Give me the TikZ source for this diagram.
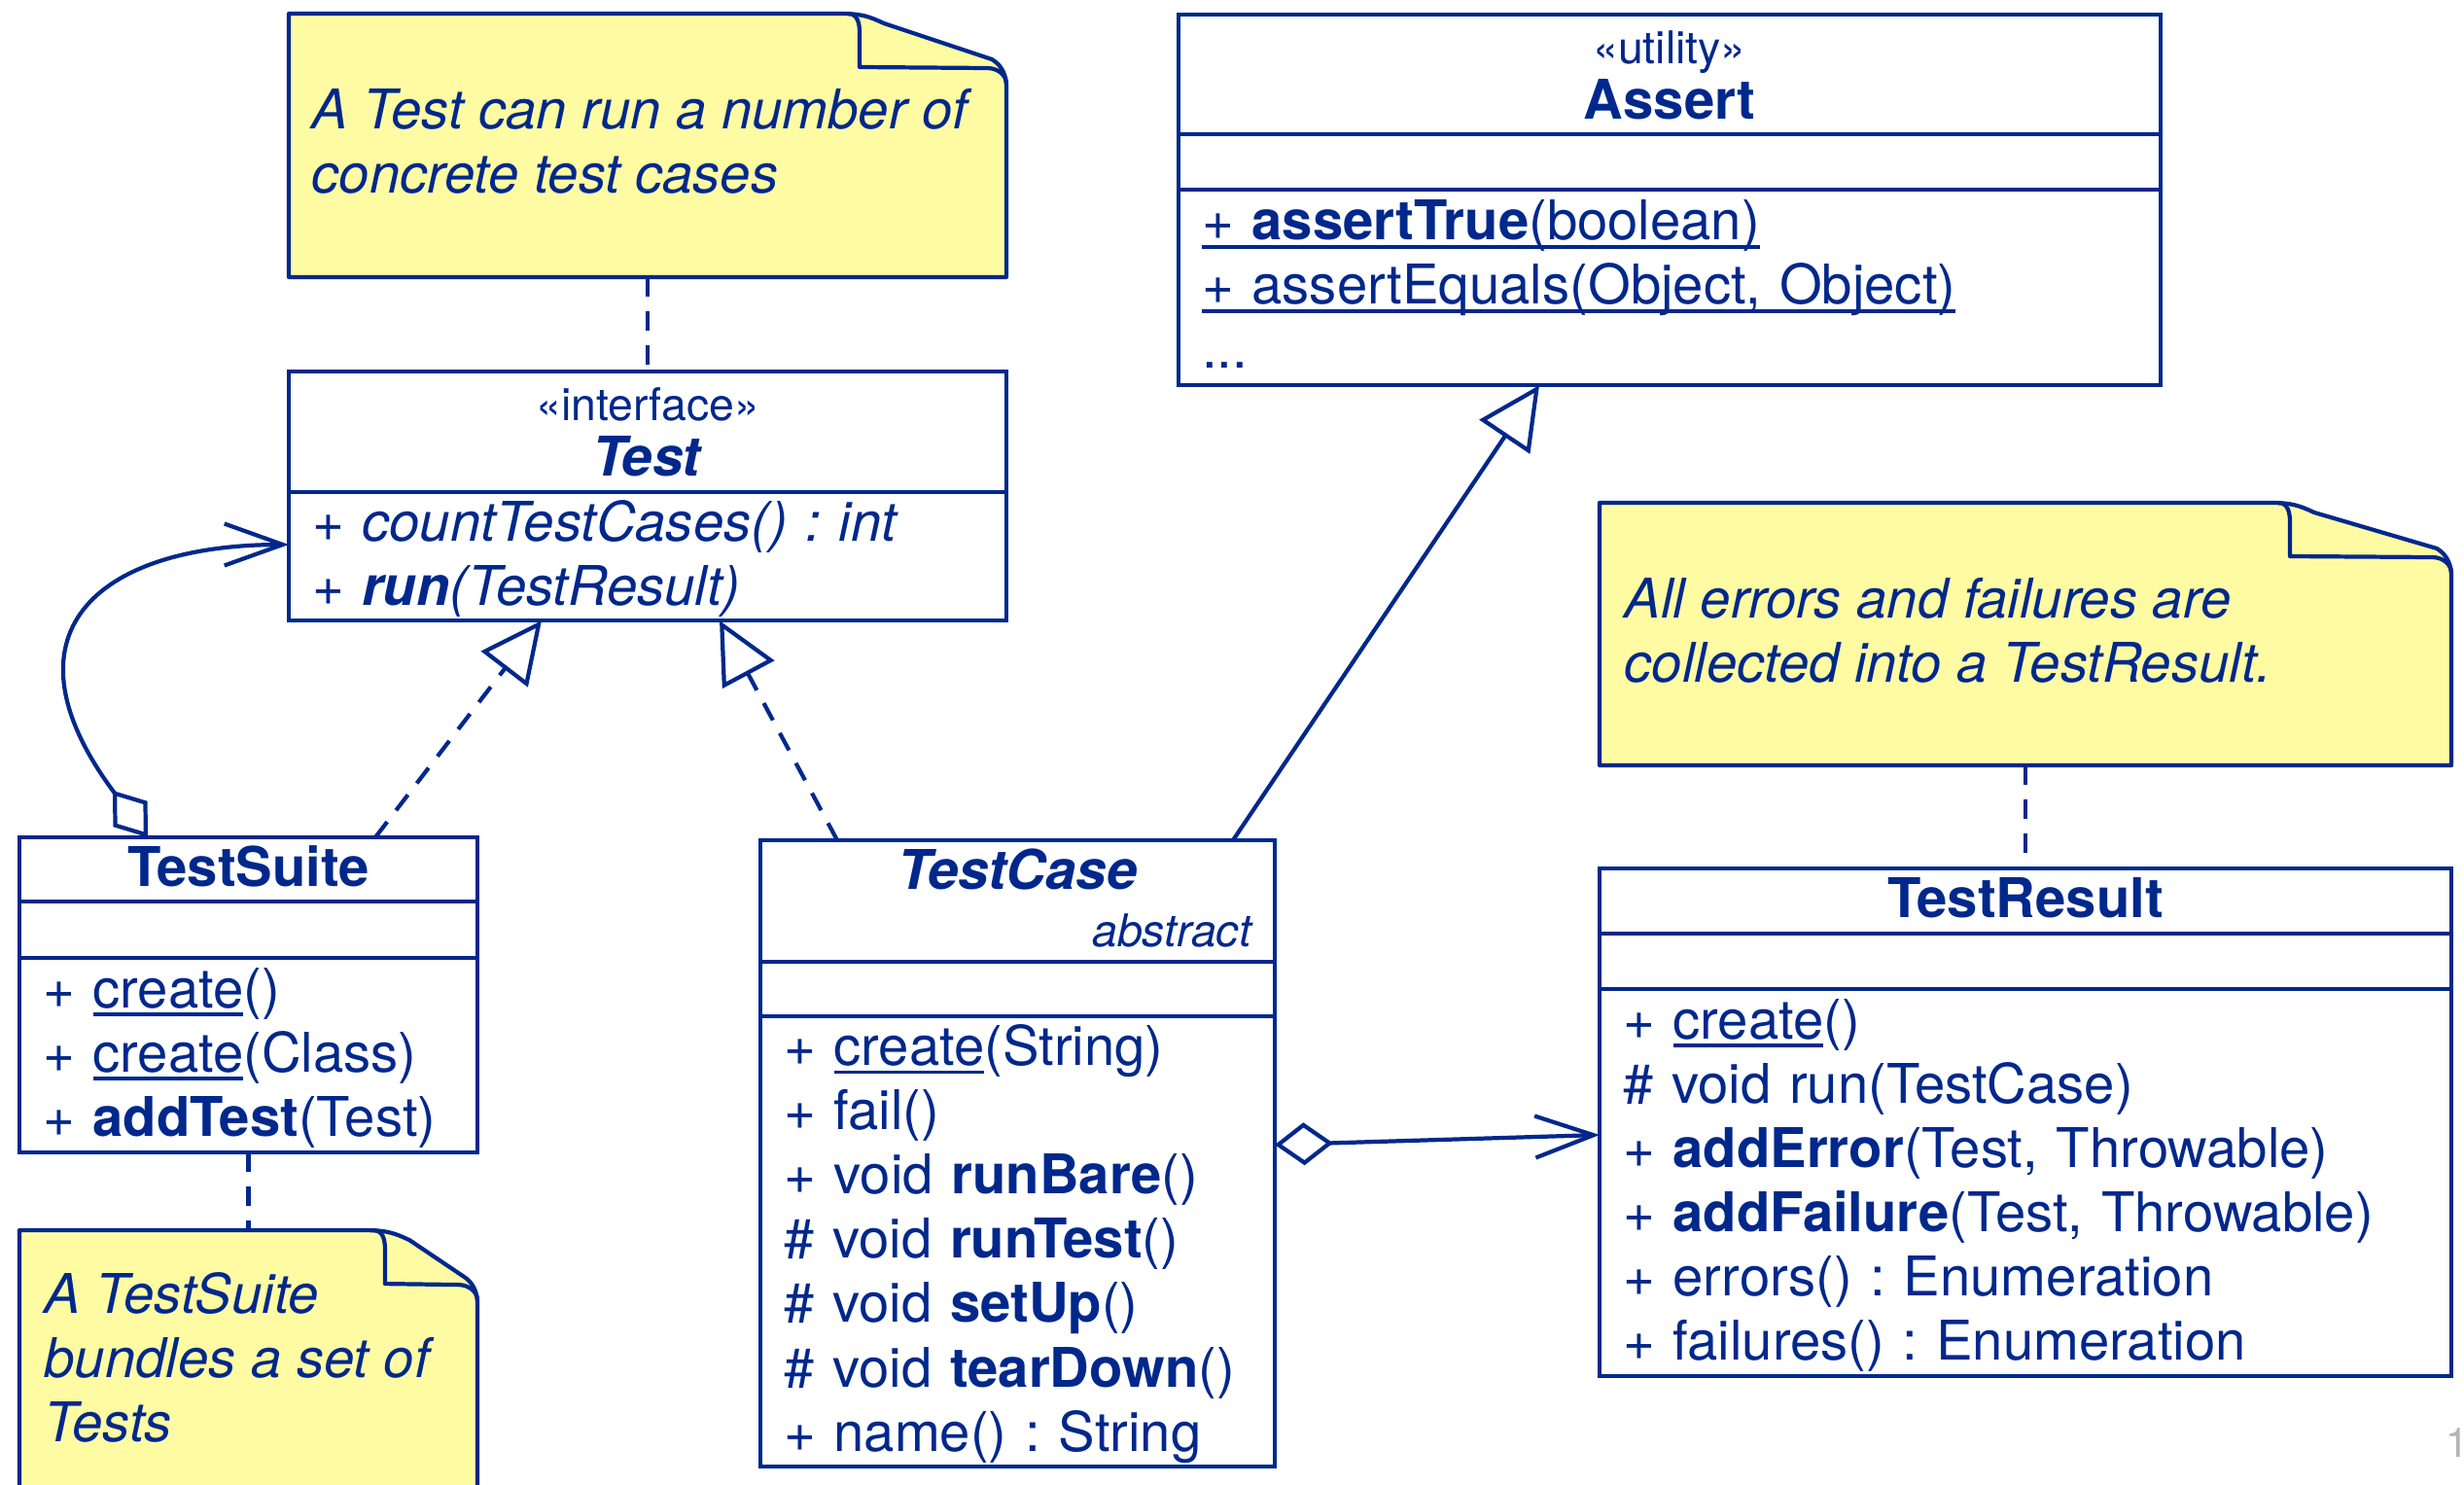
\documentclass[tikz,border=0pt]{standalone}
\usepackage{fontspec}
\setmainfont{TeX Gyre Heros}
\usetikzlibrary{calc,positioning,arrows.meta}

\definecolor{umlblue}{RGB}{0,40,140}
\definecolor{notebg}{RGB}{255,251,163}
\definecolor{pagegray}{RGB}{180,180,180}

\newcommand{\umlfont}{\fontsize{16}{18.8}\selectfont\frenchspacing}
\newcommand{\stereo}{\fontsize{13.2}{15}\selectfont}
\newcommand{\umlstrut}{\rule[-4.5pt]{0pt}{18.8pt}}
% underlined (static) members
\newcommand{\usl}[1]{\leavevmode\setbox0\hbox{#1}\rlap{\rule[-2.5pt]{\wd0}{1.1pt}}\box0}
% note sheet with folded corner, #1 = node, #2 = fold width
\newcommand{\notesheet}[2]{%
  \filldraw[notepaper] (#1.south west) -- (#1.north west)
    -- ($(#1.north east)+(-#2-0.2,0)$)
    .. controls +(0.22,0) and +(-0.15,0.07) .. ($(#1.north east)+(-#2+0.25,-0.1)$)
    -- ($(#1.north east)+(-0.15,-0.47)$)
    .. controls +(0.1,-0.06) and +(0,0.12) .. ($(#1.north east)+(0,-0.75)$)
    -- (#1.south east) -- cycle;
  \draw[notepaper, fill=none] ($(#1.north east)+(-#2-0.12,0)$)
    .. controls +(0.1,0) and +(0,0.1) .. ($(#1.north east)+(-#2,-0.2)$)
    -- ($(#1.north east)+(-#2,-0.55)$) -- ($(#1.north east)+(-0.2,-0.56)$)
    .. controls +(0.12,0) and +(0,0.08) .. ($(#1.north east)+(0,-0.72)$);
}

\tikzset{
  umlline/.style={draw=umlblue, line width=1.2pt},
  classpart/.style={umlline, inner xsep=0.24cm, inner ysep=0pt, outer sep=0pt,
    text=umlblue, font=\umlfont},
  classhead/.style={classpart, text width=#1, align=center,
    execute at begin node=\umlstrut, execute at end node=\umlstrut},
  classops/.style={classpart, text width=#1, align=left,
    execute at begin node=\umlstrut, execute at end node=\umlstrut},
  classattr/.style={classpart, minimum width=#1},
  notebox/.style={inner sep=0pt, outer sep=0pt},
  notepaper/.style={draw=umlblue, fill=notebg, line width=1.2pt, line join=round},
  notetext/.style={text=umlblue, font=\umlfont\itshape, align=left, inner sep=0pt,
    execute at begin node=\umlstrut},
  noteline/.style={umlline, dash pattern=on 0.2cm off 0.15cm},
  realize/.style={noteline, -{Triangle[open, length=0.63cm, width=0.6cm]}},
  inherit/.style={umlline, -{Triangle[open, length=0.64cm, width=0.62cm]}},
  aggregate/.style={umlline,
    {Diamond[open, length=0.6cm, width=0.44cm]}-{Straight Barb[length=0.6cm, width=0.43cm]}},
  pagenum/.style={text=pagegray, font=\fontsize{12}{14}\selectfont, inner sep=0pt}
}

\begin{document}
\begin{tikzpicture}
\useasboundingbox (0,0) rectangle (25.34,-15.27);
\fill[white] (0,0) rectangle (25.34,-15.27);
\clip (0,0) rectangle (25.34,-15.27);

% interface Test
\node[classhead=6.90cm, minimum height=1.24cm, anchor=north west] (test) at (2.97,-3.82)
  {{\stereo «interface»}\\[-0.09cm]\textbf{\textit{Test}}};
\node[classops=6.90cm, minimum height=1.32cm, below=0pt of test] (test-ops)
  {\textit{+ countTestCases() : int}\\\textit{+ \textbf{run}(TestResult)}};

% utility Assert
\node[classhead=9.62cm, minimum height=1.23cm, anchor=north west] (assert) at (12.12,-0.15)
  {{\stereo «utility»}\\[-0.09cm]\textbf{Assert}};
\node[classattr=10.10cm, minimum height=0.57cm, below=0pt of assert] (assert-attr) {};
\node[classops=9.62cm, minimum height=2.01cm, below=0pt of assert-attr] (assert-ops)
  {\usl{+ \textbf{assertTrue}(boolean)}\\\usl{+ assertEquals(Object, Object)}\\...};

% TestSuite
\node[classhead=4.23cm, minimum height=0.66cm, anchor=north west] (suite) at (0.20,-8.61)
  {\textbf{TestSuite}};
\node[classattr=4.71cm, minimum height=0.58cm, below=0pt of suite] (suite-attr) {};
\node[classops=4.23cm, minimum height=2.00cm, below=0pt of suite-attr] (suite-ops)
  {+ \usl{create}()\\+ \usl{create}(Class)\\+ \textbf{addTest}(Test)};

% TestCase
\node[classhead=4.81cm, minimum height=1.24cm, anchor=north west] (case) at (7.82,-8.64)
  {\textbf{\textit{TestCase}}\\[-0.07cm]\makebox[4.81cm][r]{\stereo\itshape abstract}};
\node[classattr=5.29cm, minimum height=0.56cm, below=0pt of case] (case-attr) {};
\node[classops=4.81cm, minimum height=4.63cm, below=0pt of case-attr] (case-ops)
  {+ \usl{create}(String)\\+ fail()\\+ void \textbf{runBare}()\\\# void \textbf{runTest}()\\
   \# void \textbf{setUp}()\\\# void \textbf{tearDown}()\\+ name() : String};

% TestResult
\node[classhead=8.28cm, minimum height=0.67cm, anchor=north west] (result) at (16.45,-8.93)
  {\textbf{TestResult}};
\node[classattr=8.76cm, minimum height=0.57cm, below=0pt of result] (result-attr) {};
\node[classops=8.28cm, minimum height=3.98cm, below=0pt of result-attr] (result-ops)
  {+ \usl{create}()\\\# void run(TestCase)\\+ \textbf{addError}(Test, Throwable)\\
   + \textbf{addFailure}(Test, Throwable)\\+ errors() : Enumeration\\+ failures() : Enumeration};

% notes
\node[notebox, minimum width=7.38cm, minimum height=2.71cm, above=0.97cm of test] (note1) {};
\notesheet{note1}{1.51}
\node[notetext, below right=0.77cm and 0.23cm of note1.north west] (note1-text)
  {A Test can run a number of\\concrete test cases};

\node[notebox, minimum width=8.76cm, minimum height=2.70cm, above=1.06cm of result] (note2) {};
\notesheet{note2}{1.66}
\node[notetext, below right=0.77cm and 0.25cm of note2.north west] (note2-text)
  {All errors and failures are\\collected into a TestResult.};

\node[notebox, minimum width=4.71cm, minimum height=3.0cm, below=0.80cm of suite-ops] (note3) {};
\notesheet{note3}{0.95}
\node[notetext, below right=0.43cm and 0.25cm of note3.north west] (note3-text)
  {A TestSuite\\bundles a set of\\Tests};

\path (note1) edge[noteline] (test)
      (suite-ops) edge[noteline] (note3)
      (note2) edge[noteline] (result);

% relations
\draw[realize] ($(suite.north west)+(3.66,0)$) -- ($(test-ops.south west)+(2.60,0)$);
\draw[realize] ($(case.north west)+(0.79,0)$) -- ($(test-ops.south west)+(4.43,0)$);
\draw[inherit] ($(case.north west)+(4.86,0)$) -- ($(assert-ops.south west)+(3.71,0)$);
\draw[aggregate] ($(case-ops.north east)+(0,-1.32)$) -- ($(result-ops.north west)+(0,-1.50)$);
\draw[aggregate] ($(suite.north west)+(1.32,0)$)
  .. controls +(-1.56,2.08) and +(-2.0,0) .. ($(test-ops.north west)+(0,-0.54)$);

\node[pagenum, anchor=base west] (pageno) at (25.15,-14.98) {1};
\end{tikzpicture}
\end{document}
